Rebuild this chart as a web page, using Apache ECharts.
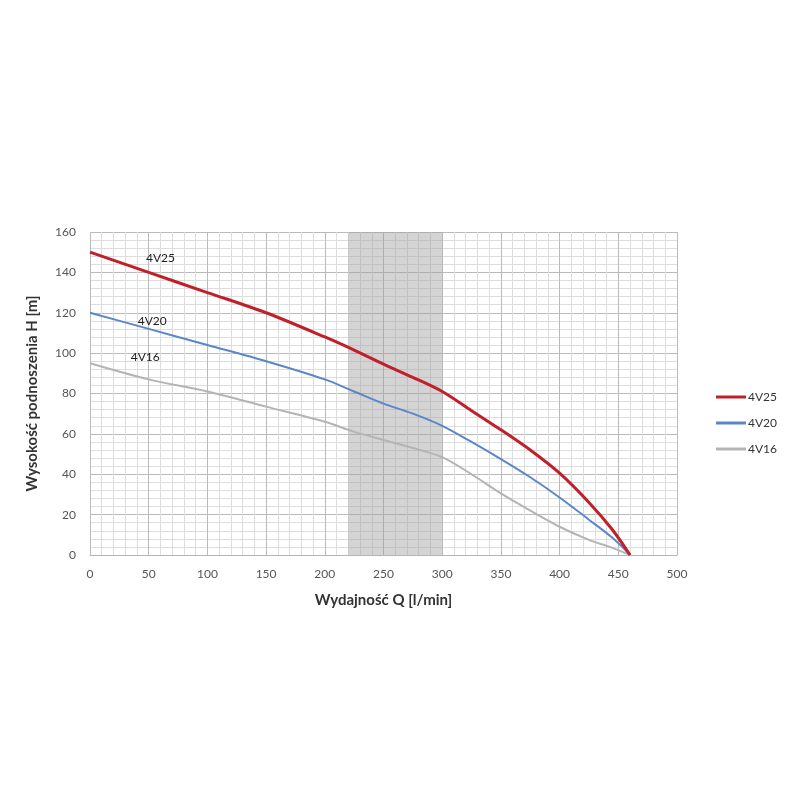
<!DOCTYPE html>
<html>
<head>
<meta charset="utf-8">
<script src="https://cdn.jsdelivr.net/npm/echarts@6/dist/echarts.min.js"></script>
<style>html,body{margin:0;padding:0;background:#fff}#c{width:800px;height:800px}</style>
</head>
<body>
<div id="c"></div>
<script>
const seriesNames = ['4V25', '4V20', '4V16'];
const q4V25 = [[0,150],[50,140],[100,130],[150,120],[200,108],[225,101.5],[250,94.5],[275,88],[300,81],[325,71.5],[350,62],[375,52],[400,40.5],[425,26],[445,12.5],[460,0]];
const q4V20 = [[0,120],[50,112],[100,104],[150,96],[200,87],[225,81],[250,75],[275,70],[300,64],[325,56],[350,47.5],[375,38.5],[400,28.5],[425,17.5],[445,8.5],[460,0]];
const q4V16 = [[0,95],[50,87],[100,81],[150,73.5],[200,66],[225,61],[250,57],[275,53],[300,48.5],[325,40],[350,30.5],[375,22],[400,14],[425,7.5],[445,3.5],[460,0]];
const curveLabelPos = [[60,147],[53,116],[47,98]];
const bandRange = [220, 300];

const colors = ['#c0202a', '#5b87c8', '#b4b4b4'];
const widths = [3, 2, 2];
const dataSets = [q4V25, q4V20, q4V16];

const font = 'Lato, "Noto Sans", sans-serif';

const series = dataSets.map((d, i) => ({
  name: seriesNames[i],
  type: 'line',
  data: d,
  smooth: 0.3,
  symbol: 'none',
  lineStyle: { color: colors[i], width: widths[i] },
  itemStyle: { color: colors[i] },
  z: 5 - i,
  markPoint: {
    symbol: 'circle', symbolSize: 0,
    label: { show: true, formatter: seriesNames[i], color: '#222', fontSize: 12, fontFamily: font, position: 'inside' },
    data: [{ coord: curveLabelPos[i] }]
  },
  markArea: i === 0 ? {
    silent: true,
    itemStyle: { color: 'rgba(160,160,160,0.45)' },
    data: [[{ xAxis: bandRange[0] }, { xAxis: bandRange[1] }]]
  } : undefined
}));

const chart = echarts.init(document.getElementById('c'));
chart.setOption({
  animation: false,
  grid: { left: 90, right: 123, top: 232, bottom: 245 },
  legend: {
    orient: 'vertical', right: 18, top: 386,
    itemWidth: 30, itemHeight: 3, itemGap: 14,
    icon: 'rect',
    textStyle: { fontSize: 12, color: '#333', fontFamily: font, padding: [0, 0, 0, -3] },
    data: seriesNames
  },
  xAxis: {
    type: 'value', min: 0, max: 500, interval: 50,
    name: 'Wydajność Q [l/min]', nameLocation: 'middle', nameGap: 38,
    nameTextStyle: { fontSize: 15, fontWeight: 'bold', color: '#333', fontFamily: font },
    axisLine: { show: true, lineStyle: { color: '#b5b5b5' } },
    axisTick: { show: false },
    axisLabel: { color: '#555', fontSize: 12, fontFamily: font, margin: 13 },
    splitLine: { show: true, lineStyle: { color: '#bbbbbb', width: 1 } },
    minorTick: { show: false, splitNumber: 5 },
    minorSplitLine: { show: true, lineStyle: { color: '#dddddd', width: 1 } }
  },
  yAxis: {
    type: 'value', min: 0, max: 160, interval: 20,
    name: 'Wysokość podnoszenia H [m]', nameLocation: 'middle', nameGap: 50,
    nameTextStyle: { fontSize: 15, fontWeight: 'bold', color: '#333', fontFamily: font },
    axisLine: { show: false },
    axisTick: { show: false },
    axisLabel: { color: '#555', fontSize: 12, fontFamily: font, margin: 14 },
    splitLine: { show: true, lineStyle: { color: '#bbbbbb', width: 1 } },
    minorTick: { show: false, splitNumber: 5 },
    minorSplitLine: { show: true, lineStyle: { color: '#dddddd', width: 1 } }
  },
  series: series
});
</script>
</body>
</html>
